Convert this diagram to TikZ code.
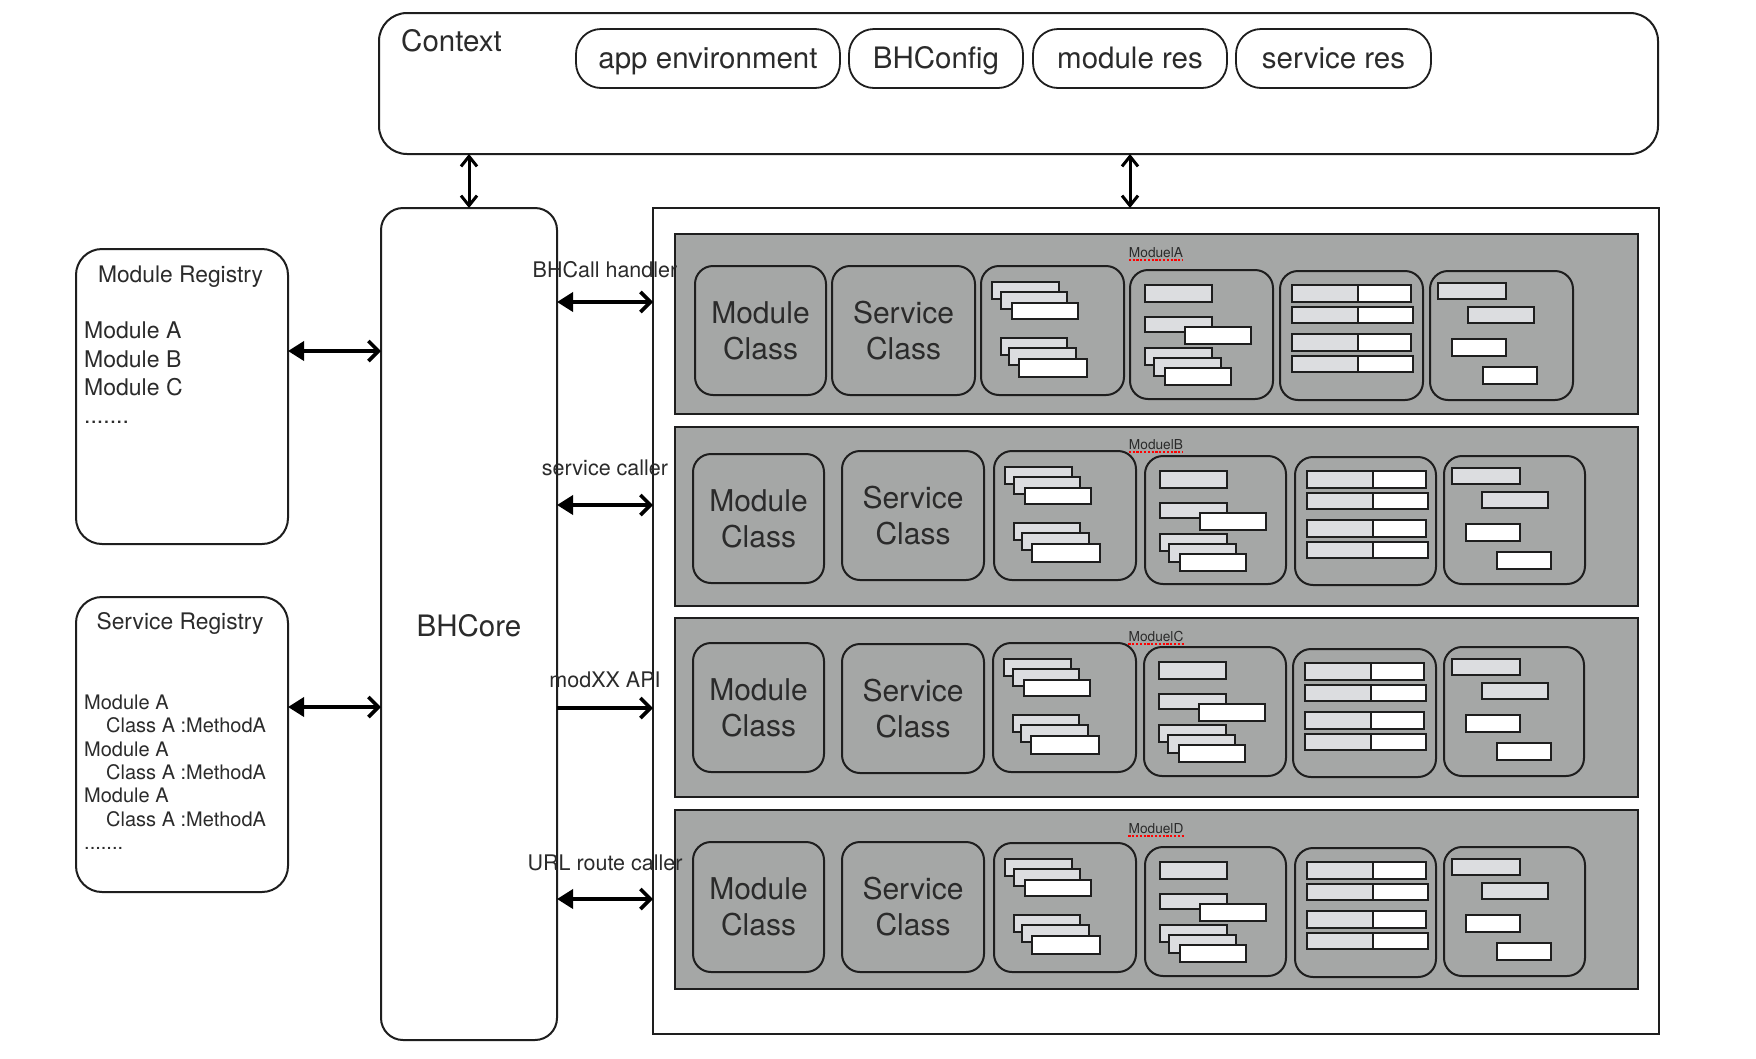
\documentclass[tikz,border=0pt]{standalone}
\usepackage{fontspec}
\setmainfont{TeX Gyre Heros}
\usetikzlibrary{arrows.meta,fit}
\definecolor{panelgray}{HTML}{A5A7A6}
\definecolor{lightrect}{HTML}{DCDDE0}
\definecolor{txt}{HTML}{2B2B2B}
\definecolor{edge}{HTML}{1E1E1E}
\tikzset{
  every node/.style={text=txt},
  fitbox/.style={inner sep=0pt, outer sep=0pt},
  ctxbox/.style={fitbox, draw=edge, line width=2pt, rounded corners=28pt},
  pill/.style={fitbox, draw=edge, line width=1.8pt, rounded corners=25pt},
  pilltext/.style={inner sep=0pt, font=\fontsize{29.5}{35}\selectfont, text height=19pt, text depth=0pt},
  corebox/.style={fitbox, draw=edge, line width=2pt, rounded corners=22pt},
  coretext/.style={inner sep=0pt, font=\fontsize{29.5}{35}\selectfont, text height=21pt, text depth=0pt},
  regbox/.style={fitbox, draw=edge, line width=2pt, rounded corners=26pt},
  contbox/.style={fitbox, draw=edge, line width=2pt},
  panel/.style={fitbox, draw=edge, fill=panelgray, line width=2pt},
  ibox/.style={fitbox, draw=edge, line width=2pt, rounded corners=18pt},
  itext/.style={inner sep=0pt, align=center, font=\fontsize{30}{36}\selectfont},
  lrect/.style={draw=edge, fill=lightrect, line width=1.8pt},
  wrect/.style={draw=edge, fill=white, line width=1.8pt},
  regtitle/.style={inner sep=0pt, anchor=base, font=\fontsize{22.8}{27}\selectfont},
  mlist/.style={inner sep=0pt, anchor=base west, font=\fontsize{23}{28}\selectfont},
  slist/.style={inner sep=0pt, anchor=base west, font=\fontsize{20}{24}\selectfont},
  alabel/.style={inner sep=0pt, anchor=base, font=\fontsize{21.5}{26}\selectfont},
  plabel/.style={inner sep=0pt, anchor=base, font=\fontsize{13.7}{16}\selectfont},
  uline/.style={draw=red, line width=2pt, dash pattern=on 2.2pt off 1.6pt},
  harr/.style={line width=3.6pt, draw=black,
    {Triangle[length=16pt,width=19pt]}-{Straight Barb[length=10pt,width=20pt]}},
  rarr/.style={line width=3.6pt, draw=black, -{Straight Barb[length=10pt,width=20pt]}},
  varr/.style={line width=3pt, draw=black,
    {Straight Barb[length=10pt,width=16pt]}-{Straight Barb[length=10pt,width=16pt]}},
}
\newcommand\ibox[6]{\node[ibox, fit={(#2,#3) (#4,#5)}] (#1) {};
  \node[itext] (#1t) at (#1.center) {#6};}
\newcommand\cntthree[2]{\begin{scope}[shift={(#1,#2)}]
  \draw[lrect] (11,16) rectangle (78,33);
  \draw[lrect] (20,26) rectangle (86,43);
  \draw[wrect] (31,37) rectangle (97,53);
  \draw[lrect] (20,72) rectangle (86,89);
  \draw[lrect] (28,82) rectangle (95,99);
  \draw[wrect] (38,93) rectangle (106,111);
\end{scope}}
\newcommand\cntfour[2]{\begin{scope}[shift={(#1,#2)}]
  \draw[lrect] (15,15) rectangle (82,32);
  \draw[lrect] (15,47) rectangle (82,62);
  \draw[wrect] (55,57) rectangle (121,74);
  \draw[lrect] (15,78) rectangle (82,95);
  \draw[lrect] (24,88) rectangle (91,106);
  \draw[wrect] (35,98) rectangle (101,115);
\end{scope}}
\newcommand\cntfive[2]{\begin{scope}[shift={(#1,#2)}]
  \foreach \ya/\yb/\w in {14/31/131, 36/52/133, 63/80/131, 85/101/133}{
    \draw[lrect] (12,\ya) rectangle (78,\yb);
    \draw[wrect] (78,\ya) rectangle (\w,\yb);}
\end{scope}}
\newcommand\cntsix[2]{\begin{scope}[shift={(#1,#2)}]
  \draw[lrect] (8,12) rectangle (76,28);
  \draw[lrect] (38,36) rectangle (104,52);
  \draw[wrect] (22,68) rectangle (76,85);
  \draw[wrect] (53,96) rectangle (107,113);
\end{scope}}
\begin{document}
\begin{tikzpicture}[x=1pt,y=-1pt]
\fill[white] (0,0) rectangle (1756,1058);
\useasboundingbox (0,0) rectangle (1756,1058);

% Context
\node[ctxbox, fit={(379,13) (1658,154)}] (ctx) {};
\node[inner sep=0pt, anchor=base west, font=\fontsize{29.5}{35}\selectfont] (ctxl) at (401,51) {Context};
\node[pill, fit={(576,29) (840,88)}] (p1) {};
\node[pill, fit={(849,29) (1023,88)}] (p2) {};
\node[pill, fit={(1033,29) (1227,88)}] (p3) {};
\node[pill, fit={(1236,29) (1431,88)}] (p4) {};
\node[pilltext] (p1t) at (p1.center) {app environment};
\node[pilltext] (p2t) at (p2.center) {BHConfig};
\node[pilltext] (p3t) at (p3.center) {module res};
\node[pilltext] (p4t) at (p4.center) {service res};

% BHCore and container
\node[corebox, fit={(381,208) (557,1040)}] (core) {};
\node[coretext] (coret) at (469,626) {BHCore};
\node[contbox, fit={(653,208) (1659,1034)}] (cont) {};

% Registries
\node[regbox, fit={(76,249) (288,544)}] (mreg) {};
\node[regtitle] (mregt) at (180.5,282) {Module Registry};
\node[mlist] (m1) at (84,338) {Module A};
\node[mlist] (m2) at (84,367) {Module B};
\node[mlist] (m3) at (84,395) {Module C};
\node[mlist] (m4) at (84,423) {.......};

\node[regbox, fit={(76,597) (288,892)}] (sreg) {};
\node[regtitle] (sregt) at (180,629) {Service Registry};
\node[slist] (s1) at (84,709) {Module A};
\node[slist] (s2) at (106,732) {Class A :MethodA};
\node[slist] (s3) at (84,756) {Module A};
\node[slist] (s4) at (106,779) {Class A :MethodA};
\node[slist] (s5) at (84,802) {Module A};
\node[slist] (s6) at (106,826) {Class A :MethodA};
\node[slist] (s7) at (84,849) {.......};

% Panels
\node[panel, fit={(675,234) (1638,414)}] (pA) {};
\node[panel, fit={(675,427) (1638,606)}] (pB) {};
\node[panel, fit={(675,618) (1638,797)}] (pC) {};
\node[panel, fit={(675,810) (1638,989)}] (pD) {};

\foreach \p/\t/\n in {pA/257/A, pB/449/B, pC/641/C, pD/833/D}{
  \node[plabel] (lab\n) at (1156,\t) {Moduel\n};
  \draw[uline] ([yshift=-2.5pt]lab\n.south west) -- ([yshift=-2.5pt]lab\n.south east);
}

% Panel A
\ibox{pA1}{695}{266}{826}{395}{Module\\Class}
\ibox{pA2}{832}{266}{975}{395}{Service\\Class}
\ibox{pA3}{981}{266}{1124}{395}{}
\ibox{pA4}{1130}{270}{1273}{399}{}
\ibox{pA5}{1280}{271}{1423}{400}{}
\ibox{pA6}{1430}{271}{1573}{400}{}
\cntthree{981}{266}\cntfour{1130}{270}\cntfive{1280}{271}\cntsix{1430}{271}

% Panel B
\ibox{pB1}{693}{454}{824}{583}{Module\\Class}
\ibox{pB2}{842}{451}{984}{580}{Service\\Class}
\ibox{pB3}{994}{451}{1136}{580}{}
\ibox{pB4}{1145}{456}{1286}{584}{}
\ibox{pB5}{1295}{457}{1436}{585}{}
\ibox{pB6}{1444}{456}{1585}{584}{}
\cntthree{994}{451}\cntfour{1145}{456}\cntfive{1295}{457}\cntsix{1444}{456}

% Panel C
\ibox{pC1}{693}{643}{824}{772}{Module\\Class}
\ibox{pC2}{842}{644}{984}{773}{Service\\Class}
\ibox{pC3}{993}{643}{1136}{772}{}
\ibox{pC4}{1144}{647}{1286}{776}{}
\ibox{pC5}{1293}{649}{1436}{777}{}
\ibox{pC6}{1444}{647}{1584}{776}{}
\cntthree{993}{643}\cntfour{1144}{647}\cntfive{1293}{649}\cntsix{1444}{647}

% Panel D
\ibox{pD1}{693}{842}{824}{972}{Module\\Class}
\ibox{pD2}{842}{842}{984}{972}{Service\\Class}
\ibox{pD3}{994}{843}{1136}{972}{}
\ibox{pD4}{1145}{847}{1286}{976}{}
\ibox{pD5}{1295}{848}{1436}{977}{}
\ibox{pD6}{1444}{847}{1585}{976}{}
\cntthree{994}{843}\cntfour{1145}{847}\cntfive{1295}{848}\cntsix{1444}{847}

% Arrow labels
\node[alabel] (l1) at (605,277) {BHCall handler};
\node[alabel] (l2) at (605,475) {service caller};
\node[alabel] (l3) at (605,687) {modXX API};
\node[alabel] (l4) at (605,870) {URL route caller};

% Connectors
\coordinate (ym) at (0,351);
\coordinate (ys) at (0,707);
\coordinate (y1) at (0,302);
\coordinate (y2) at (0,505);
\coordinate (y3) at (0,708);
\coordinate (y4) at (0,899);
\coordinate (vx) at (1130,0);
\draw[harr] (mreg.east |- ym) -- (core.west |- ym);
\draw[harr] (sreg.east |- ys) -- (core.west |- ys);
\draw[harr] (core.east |- y1) -- (cont.west |- y1);
\draw[harr] (core.east |- y2) -- (cont.west |- y2);
\draw[rarr] (core.east |- y3) -- (cont.west |- y3);
\draw[harr] (core.east |- y4) -- (cont.west |- y4);
\draw[varr] (core.north |- ctx.south) -- (core.north);
\draw[varr] (vx |- ctx.south) -- (vx |- cont.north);
\end{tikzpicture}
\end{document}
